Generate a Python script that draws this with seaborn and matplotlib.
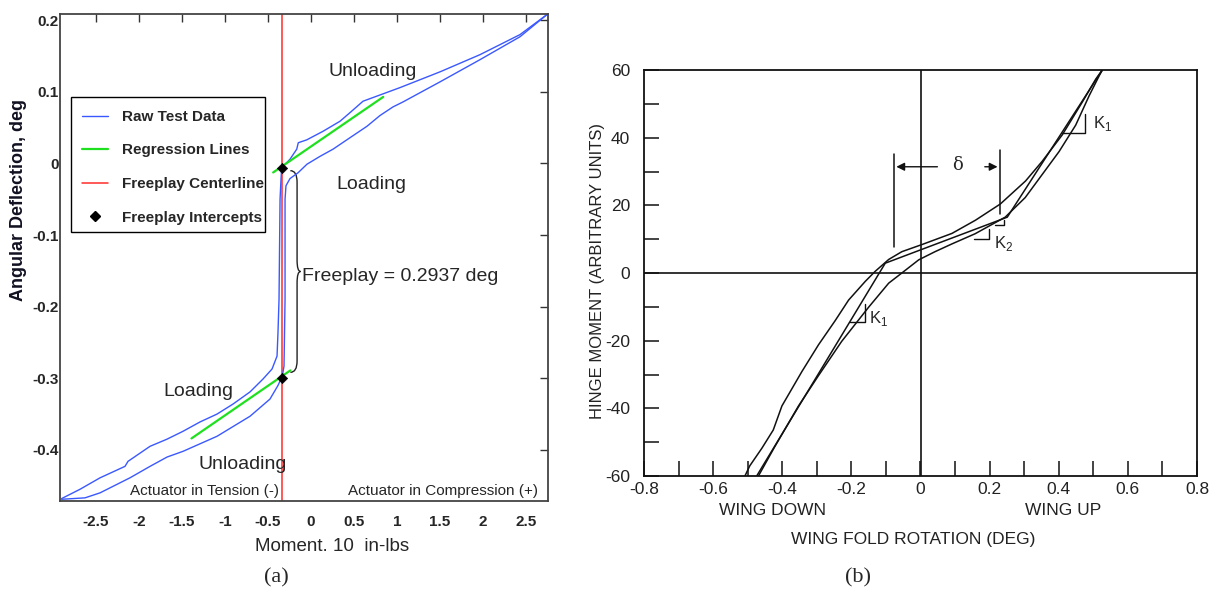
import numpy as np
import pandas as pd
import matplotlib
matplotlib.use("Agg")
import matplotlib.pyplot as plt
import seaborn as sns
from matplotlib.path import Path
from matplotlib.patches import PathPatch, Rectangle
from matplotlib.lines import Line2D

# ---------------- panel (a): actuator freeplay test ----------------
# raw test data, branch running above / left of the centerline
raw_up_x = [-2.90, -2.686, -2.453, -2.163, -2.128, -1.872, -1.674, -1.488, -1.291, -1.093,
            -0.907, -0.709, -0.558, -0.453, -0.395, -0.384, -0.372, -0.366, -0.360, -0.349,
            -0.341, -0.244, -0.166, -0.148, -0.050, 0.140, 0.337, 0.453, 0.605, 1.035,
            1.500, 1.965, 2.430, 2.744]
raw_up_y = [-0.468, -0.455, -0.439, -0.423, -0.416, -0.395, -0.385, -0.374, -0.361, -0.350,
            -0.336, -0.319, -0.301, -0.287, -0.269, -0.236, -0.190, -0.120, -0.050, -0.022,
            -0.006, 0.006, 0.020, 0.029, 0.033, 0.045, 0.059, 0.071, 0.087, 0.106,
            0.128, 0.152, 0.180, 0.208]
# raw test data, branch running below / right of the centerline
raw_dn_x = [-2.90, -2.628, -2.453, -2.105, -1.872, -1.674, -1.488, -1.093, -0.709, -0.477,
            -0.384, -0.334, -0.314, -0.308, -0.302, -0.302, -0.302, -0.291, -0.244, -0.151,
            -0.047, 0.105, 0.256, 0.453, 0.651, 0.802, 0.953, 1.070, 1.500, 1.965,
            2.430, 2.744]
raw_dn_y = [-0.469, -0.467, -0.460, -0.439, -0.423, -0.410, -0.402, -0.381, -0.353, -0.329,
            -0.310, -0.297, -0.283, -0.236, -0.190, -0.120, -0.050, -0.031, -0.021, -0.013,
            -0.001, 0.010, 0.020, 0.036, 0.052, 0.067, 0.079, 0.086, 0.114, 0.145,
            0.177, 0.208]
reg_top_x = [-0.44, 0.84]
reg_top_y = [-0.0125, 0.093]
reg_bot_x = [-1.39, -0.24]
reg_bot_y = [-0.384, -0.289]
centerline_x = -0.34
intercept_y = [-0.006, -0.2997]
freeplay = 0.2937

# ---------------- panel (b): wing fold hinge ----------------
loop_up_x = [-0.508, -0.494, -0.459, -0.426, -0.401, -0.343, -0.295, -0.247, -0.208, -0.160,
             -0.131, -0.092, -0.054, 0.004, 0.091, 0.159, 0.231, 0.304, 0.352, 0.410,
             0.468, 0.507, 0.526]
loop_up_y = [-60, -57.0, -51.8, -46.4, -39.3, -29.1, -21.2, -14.1, -8.0, -2.5,
             0.5, 4.0, 6.3, 8.4, 11.7, 15.6, 20.4, 27.2, 33.0, 40.8,
             50.5, 57.3, 60]
loop_dn_x = [-0.469, -0.422, -0.353, -0.295, -0.228, -0.150, -0.092, -0.054, -0.005, 0.042,
             0.091, 0.158, 0.245, 0.303, 0.352, 0.401, 0.449, 0.488, 0.517, 0.526]
loop_dn_y = [-60, -51.4, -39.3, -30.3, -20.2, -10.1, -3.0, 0.0, 3.9, 6.3,
             8.6, 11.6, 16.5, 22.3, 29.1, 35.9, 43.7, 52.4, 58.3, 60]
bilinear_x = [-0.474, -0.102, 0.251, 0.526]
bilinear_y = [-60, 2.9, 16.5, 60]

sns.set_style("white")
plt.rcParams['font.family'] = ['Liberation Sans', 'DejaVu Sans']
plt.rcParams['axes.unicode_minus'] = False

fig = plt.figure(figsize=(12.14, 5.92), dpi=100)
ax_a = fig.add_axes([60 / 1214, 91 / 592, 488 / 1214, 487 / 592])
ax_b = fig.add_axes([644 / 1214, 116 / 592, 553 / 1214, 406 / 592])


def fmt(v):
    return f"{round(v, 1) + 0.0:g}"


# ---- panel (a) ----
blue, green, red = '#3a58ff', '#1fe01f', '#ff2b2b'
for cx, cy in [(raw_up_x, raw_up_y), (raw_dn_x, raw_dn_y)]:
    sns.lineplot(x=cx, y=cy, sort=False, estimator=None, color=blue, lw=1.0, ax=ax_a)
for cx, cy in [(reg_top_x, reg_top_y), (reg_bot_x, reg_bot_y)]:
    sns.lineplot(x=cx, y=cy, sort=False, estimator=None, color=green, lw=1.6, ax=ax_a)
ax_a.axvline(centerline_x, color=red, lw=1.1, zorder=1)
sns.scatterplot(x=[centerline_x] * 2, y=intercept_y, marker='D', s=28, color='black',
                edgecolor='black', zorder=6, ax=ax_a)


# curly brace showing the freeplay
def brace(x0, y_top, y_bot, w, tip, r):
    ym = (y_top + y_bot) / 2
    verts = [(x0, y_top), (x0 + w, y_top), (x0 + w, y_top - r),
             (x0 + w, ym + r), (x0 + w, ym), (x0 + w + tip, ym),
             (x0 + w, ym), (x0 + w, ym - r),
             (x0 + w, y_bot + r), (x0 + w, y_bot), (x0, y_bot)]
    codes = [Path.MOVETO, Path.CURVE3, Path.CURVE3, Path.LINETO, Path.CURVE3, Path.CURVE3,
             Path.CURVE3, Path.CURVE3, Path.LINETO, Path.CURVE3, Path.CURVE3]
    return PathPatch(Path(verts, codes), fill=False, lw=1.0, ec='#222222')


ax_a.add_patch(brace(centerline_x + 0.10, intercept_y[0] - 0.004, intercept_y[1] + 0.008,
                     0.078, 0.04, 0.016))

ax_a.set_xlim(-2.919, 2.756)
ax_a.set_ylim(-0.4714, 0.2088)
xt = np.arange(-2.5, 2.51, 0.5)
ax_a.set_xticks(xt)
ax_a.set_xticklabels([fmt(v) for v in xt], fontweight='bold')
yt = np.arange(-0.4, 0.21, 0.1)
ax_a.set_yticks(yt)
ax_a.set_yticklabels([fmt(v) for v in yt], fontweight='bold')
ax_a.tick_params(direction='in', length=6, width=1, top=True, right=True,
                 labelsize=11, color='#333333')
ax_a.tick_params(axis='x', pad=10)
ax_a.tick_params(axis='y', pad=1)
for s in ax_a.spines.values():
    s.set_color('#444444')
    s.set_linewidth(1.3)

ax_a.set_xlabel("Moment. 10  in-lbs", fontsize=13.5)
ax_a.xaxis.set_label_coords(0.558, -0.075)
ax_a.set_ylabel("Angular Deflection, deg", fontsize=13, fontweight='bold', color='#111122')
ax_a.yaxis.set_label_coords(-0.068, 0.618)

ax_a.text(0.72, 0.128, "Unloading", fontsize=14, ha='center', va='center')
ax_a.text(0.70, -0.030, "Loading", fontsize=14, ha='center', va='center')
ax_a.text(-0.11, -0.158, f"Freeplay = {freeplay} deg", fontsize=14, ha='left', va='center')
ax_a.text(-1.31, -0.318, "Loading", fontsize=14, ha='center', va='center')
ax_a.text(-0.80, -0.421, "Unloading", fontsize=14, ha='center', va='center')
ax_a.text(-2.10, -0.457, "Actuator in Tension (-)", fontsize=11, ha='left', va='center')
ax_a.text(0.43, -0.457, "Actuator in Compression (+)", fontsize=11, ha='left', va='center')

# legend: plain box, entries may run past its right edge as in the original
ax_a.add_patch(Rectangle((0.022, 0.553), 0.398, 0.277, transform=ax_a.transAxes,
                         fc='white', ec='black', lw=1.0, zorder=4))
handles = [Line2D([], [], color=blue, lw=1.0),
           Line2D([], [], color=green, lw=1.6),
           Line2D([], [], color=red, lw=1.1),
           Line2D([], [], color='black', marker='D', ms=5, ls='none')]
labels = ["Raw Test Data", "Regression Lines", "Freeplay Centerline", "Freeplay Intercepts"]
leg = ax_a.legend(handles, labels, loc='upper left', bbox_to_anchor=(0.045, 0.803),
                  prop={'size': 11, 'weight': 'bold'}, frameon=False, borderpad=0,
                  labelspacing=1.28, handlelength=1.7, handletextpad=0.95, borderaxespad=0)
leg.set_zorder(5)

# ---- panel (b) ----
for cx, cy in [(loop_up_x, loop_up_y), (loop_dn_x, loop_dn_y), (bilinear_x, bilinear_y)]:
    sns.lineplot(x=cx, y=cy, sort=False, estimator=None, color='#111111', lw=1.1, ax=ax_b)
ax_b.axhline(0, color='#111111', lw=1.2)
ax_b.axvline(0, color='#111111', lw=1.2)

# slope triangles (x_left, x_right, y_base, y_top) and labels
slope_marks = [(0.410, 0.477, 41.3, 47.1), (0.155, 0.199, 10.1, 13.0),
               (0.216, 0.242, 14.2, 15.6), (-0.204, -0.161, -14.6, -9.1)]
for xl, xr, yb, yt_ in slope_marks:
    ax_b.plot([xl, xr, xr], [yb, yb, yt_], color='#111111', lw=1.0)
ax_b.text(0.500, 44.2, r"K$_{\mathregular{1}}$", fontsize=12, va='center')
ax_b.text(0.212, 8.6, r"K$_{\mathregular{2}}$", fontsize=12, va='center')
ax_b.text(-0.150, -13.5, r"K$_{\mathregular{1}}$", fontsize=12, va='center')

# freeplay width delta
d_left, d_right = -0.078, 0.231
ax_b.plot([d_left, d_left], [7.6, 35.3], color='#111111', lw=1.1)
ax_b.plot([d_right, d_right], [17.3, 36.4], color='#111111', lw=1.1)
ax_b.annotate("", xy=(d_left, 31.4), xytext=(0.057, 31.4),
              arrowprops=dict(arrowstyle='-|>', color='#111111', lw=1.0, mutation_scale=12))
ax_b.annotate("", xy=(d_right, 31.4), xytext=(0.178, 31.4),
              arrowprops=dict(arrowstyle='-|>', color='#111111', lw=1.0, mutation_scale=12))
ax_b.text(0.106, 31.8, "δ", fontsize=13, ha='center', va='center', family='DejaVu Serif')

ax_b.set_xlim(-0.8, 0.8)
ax_b.set_ylim(-60, 60)
xb = np.arange(-0.8, 0.81, 0.2)
ax_b.set_xticks(xb)
ax_b.set_xticklabels([fmt(v) for v in xb])
ax_b.set_xticks(np.arange(-0.7, 0.71, 0.2), minor=True)
yb_ = np.arange(-60, 61, 20)
ax_b.set_yticks(yb_)
ax_b.set_yticklabels([f"{v:d}" for v in yb_])
ax_b.set_yticks(np.arange(-50, 51, 20), minor=True)
ax_b.tick_params(which='both', direction='in', length=11, width=1.1, color='#111111',
                 labelsize=12.5, labelcolor='#222222', bottom=True, left=True)
ax_b.tick_params(axis='x', pad=4)
ax_b.tick_params(axis='y', pad=10)
for s in ax_b.spines.values():
    s.set_color('#111111')
    s.set_linewidth(1.3)

ax_b.set_ylabel("HINGE MOMENT (ARBITRARY UNITS)", fontsize=12, color='#222222')
ax_b.yaxis.set_label_coords(-0.071, 0.505)
ax_b.set_xlabel("WING FOLD ROTATION (DEG)", fontsize=12.5, color='#222222')
ax_b.xaxis.set_label_coords(0.486, -0.138)
ax_b.text(0.233, -0.084, "WING DOWN", fontsize=12.5, color='#222222', ha='center',
          va='center', transform=ax_b.transAxes)
ax_b.text(0.758, -0.084, "WING UP", fontsize=12.5, color='#222222', ha='center',
          va='center', transform=ax_b.transAxes)

fig.text(276 / 1214, 1 - 578 / 592, "(a)", fontsize=16, family='Liberation Serif',
         ha='center', va='center')
fig.text(858 / 1214, 1 - 578 / 592, "(b)", fontsize=16, family='Liberation Serif',
         ha='center', va='center')

fig.savefig("out.png", dpi=100)
